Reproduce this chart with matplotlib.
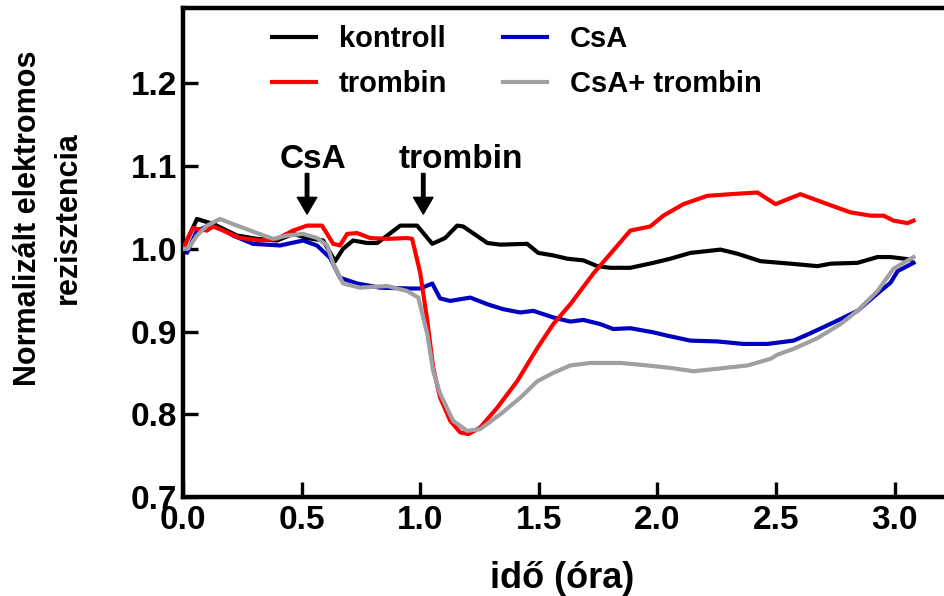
import matplotlib
matplotlib.use("Agg")
import matplotlib.pyplot as plt

plt.rcParams['font.family'] = ['Liberation Sans', 'DejaVu Sans']
plt.rcParams['font.weight'] = 'bold'

# kontroll
t_kontroll = [0, 0.059, 0.127, 0.228, 0.312, 0.397, 0.464, 0.523, 0.591, 0.641, 0.675, 0.717,
              0.776, 0.819, 0.861, 0.916, 0.987, 1.051, 1.105, 1.156, 1.181, 1.283, 1.338, 1.451,
              1.498, 1.561, 1.620, 1.688, 1.747, 1.802, 1.886, 1.983, 2.055, 2.139, 2.266, 2.338,
              2.435, 2.561, 2.675, 2.730, 2.844, 2.928, 2.983, 3.068]
kontroll = [1.0, 1.036, 1.030, 1.016, 1.012, 1.010, 1.018, 1.013, 1.010, 0.985, 1.000, 1.010,
            1.007, 1.007, 1.016, 1.028, 1.028, 1.006, 1.013, 1.028, 1.027, 1.007, 1.005, 1.006,
            0.995, 0.992, 0.988, 0.986, 0.979, 0.977, 0.977, 0.983, 0.988, 0.995, 0.999, 0.994,
            0.985, 0.982, 0.979, 0.982, 0.983, 0.990, 0.990, 0.987]

# trombin
t_trombin = [0, 0.042, 0.101, 0.127, 0.169, 0.241, 0.325, 0.397, 0.464, 0.523, 0.586, 0.633,
             0.662, 0.692, 0.734, 0.789, 0.861, 0.945, 0.966, 1.0, 1.030, 1.055, 1.084, 1.127,
             1.169, 1.203, 1.253, 1.325, 1.409, 1.494, 1.561, 1.633, 1.730, 1.814, 1.886, 1.970,
             2.025, 2.110, 2.211, 2.308, 2.422, 2.498, 2.603, 2.717, 2.814, 2.899, 2.954, 2.996,
             3.055, 3.080]
trombin = [1.0, 1.025, 1.022, 1.027, 1.022, 1.013, 1.010, 1.012, 1.022, 1.028, 1.028, 1.006,
           1.004, 1.018, 1.019, 1.013, 1.012, 1.013, 1.012, 0.971, 0.913, 0.856, 0.820, 0.792,
           0.778, 0.776, 0.784, 0.808, 0.840, 0.880, 0.909, 0.933, 0.970, 0.998, 1.022, 1.027,
           1.040, 1.054, 1.064, 1.066, 1.068, 1.054, 1.066, 1.054, 1.044, 1.040, 1.040, 1.034,
           1.031, 1.034]

# CsA
t_csa = [0, 0.017, 0.059, 0.127, 0.211, 0.295, 0.409, 0.506, 0.565, 0.620, 0.662, 0.734,
         0.831, 0.958, 1.0, 1.051, 1.084, 1.127, 1.211, 1.283, 1.350, 1.422, 1.477, 1.561,
         1.633, 1.688, 1.759, 1.814, 1.886, 1.983, 2.042, 2.139, 2.253, 2.363, 2.464, 2.574,
         2.646, 2.743, 2.844, 2.928, 2.983, 3.013, 3.080]
csa = [1.0, 0.995, 1.022, 1.030, 1.016, 1.006, 1.004, 1.010, 1.004, 0.989, 0.965, 0.958,
       0.953, 0.952, 0.952, 0.958, 0.940, 0.937, 0.941, 0.933, 0.927, 0.923, 0.925, 0.917,
       0.912, 0.914, 0.909, 0.903, 0.904, 0.899, 0.895, 0.889, 0.888, 0.885, 0.885, 0.889,
       0.898, 0.911, 0.925, 0.946, 0.959, 0.973, 0.983]

# CsA + trombin
t_csa_trombin = [0, 0.021, 0.059, 0.101, 0.156, 0.228, 0.312, 0.380, 0.439, 0.506, 0.565,
                 0.608, 0.633, 0.675, 0.747, 0.861, 0.945, 0.992, 1.030, 1.055, 1.084, 1.139,
                 1.198, 1.253, 1.338, 1.422, 1.494, 1.561, 1.633, 1.717, 1.844, 1.958, 2.055,
                 2.152, 2.253, 2.380, 2.477, 2.506, 2.574, 2.675, 2.772, 2.844, 2.928, 2.996, 3.080]
csa_trombin = [1.0, 1.0, 1.016, 1.028, 1.036, 1.028, 1.019, 1.012, 1.016, 1.018, 1.013,
               1.004, 0.982, 0.958, 0.953, 0.955, 0.949, 0.941, 0.897, 0.852, 0.825, 0.792,
               0.780, 0.782, 0.800, 0.820, 0.840, 0.850, 0.859, 0.862, 0.862, 0.859, 0.856,
               0.852, 0.855, 0.859, 0.867, 0.872, 0.879, 0.892, 0.909, 0.925, 0.949, 0.976, 0.990]

x_ticks = [0.0, 0.5, 1.0, 1.5, 2.0, 2.5, 3.0]
y_ticks = [0.7, 0.8, 0.9, 1.0, 1.1, 1.2]

# treatment markers (time, label)
events = [(0.523, 'CsA'), (1.013, 'trombin')]

fig = plt.figure(figsize=(9.45, 5.96), dpi=100)
ax = fig.add_axes([183 / 945, 1 - 497 / 596, 759 / 945, 489 / 596])

lw = 3.0
ax.plot(t_kontroll, kontroll, color='black', lw=lw, label='kontroll', zorder=3)
ax.plot(t_trombin, trombin, color='#ff0000', lw=lw, label='trombin', zorder=3)
ax.plot(t_csa, csa, color='#0000c0', lw=lw, label='CsA', zorder=2)
ax.plot(t_csa_trombin, csa_trombin, color='#a0a0a4', lw=lw, label='CsA+ trombin', zorder=4)

ax.set_xlim(0, 3.2)
ax.set_ylim(0.7, 1.291)
ax.set_xticks(x_ticks)
ax.set_yticks(y_ticks)
ax.set_xticklabels([f'{v:.1f}' for v in x_ticks])
ax.set_yticklabels([f'{v:.1f}' for v in y_ticks])

for s in ['left', 'bottom', 'top']:
    ax.spines[s].set_linewidth(3.2)
ax.spines['right'].set_visible(False)
ax.tick_params(direction='in', length=11, width=2.4, labelsize=24)
ax.tick_params(axis='y', pad=4)
ax.tick_params(axis='x', pad=6)

ax.set_xlabel('idő (óra)', fontsize=26, fontweight='bold', labelpad=18)
fig.text(48 / 945, 1 - 218 / 596, 'Normalizált elektromos\nrezisztencia', rotation=90,
         ha='center', va='center', fontsize=22, fontweight='bold', linespacing=1.4)

# arrows and labels for treatments
for t, name in events:
    ax.annotate('', xy=(t, 1.042), xytext=(t, 1.091),
                arrowprops=dict(facecolor='black', edgecolor='black', width=2.5,
                                headwidth=14, headlength=12, shrink=0))
ax.text(0.549, 1.098, 'CsA', ha='center', va='baseline', fontsize=24, fontweight='bold')
ax.text(1.173, 1.098, 'trombin', ha='center', va='baseline', fontsize=24, fontweight='bold')

ax.legend(ncol=2, frameon=False, loc='upper left', bbox_to_anchor=(272 / 945, 1 - 25 / 596),
          bbox_transform=fig.transFigure, borderpad=0, borderaxespad=0,
          handlelength=1.5, handletextpad=0.8, columnspacing=1.9,
          labelspacing=0.6, prop={'weight': 'bold', 'size': 21})

fig.savefig('out.png', dpi=100)
